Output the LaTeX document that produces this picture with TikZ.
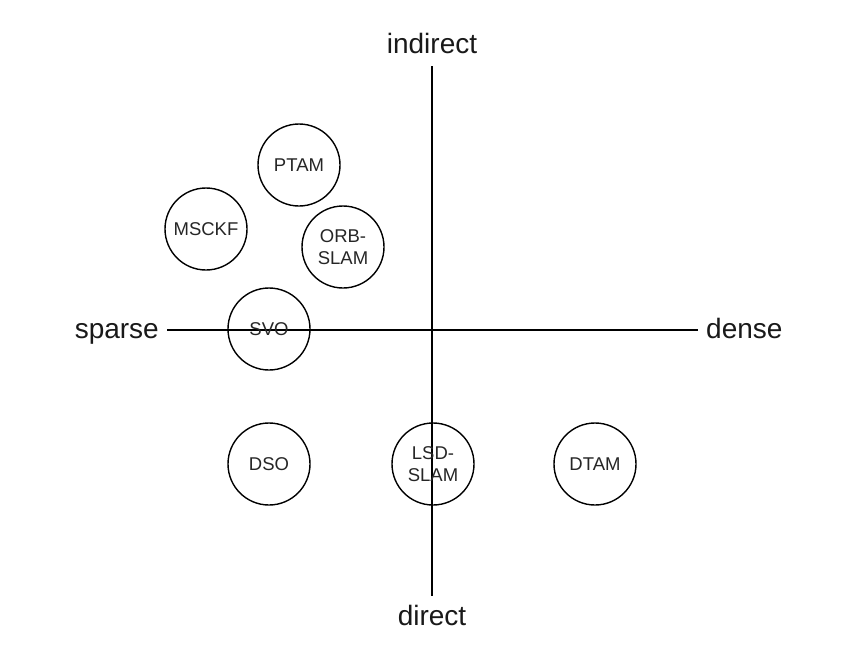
\documentclass[tikz,border=0pt]{standalone}
\usepackage{fontspec}
\setmainfont{Liberation Sans}
\begin{document}
\begin{tikzpicture}[x=1pt,y=-1pt,
  method/.style={circle,draw=black,line width=1.4pt,minimum size=82pt,inner sep=0pt,
    align=center,font=\fontsize{18.5}{22}\selectfont,text=black!85},
  axislabel/.style={inner sep=0pt,font=\fontsize{28}{32}\selectfont,text=black!90},
  axis/.style={line width=1.4pt,draw=black}]
\useasboundingbox (0,0) rectangle (862,656);
% axes
\coordinate (top) at (432,66);
\coordinate (bot) at (432,596);
\coordinate (lft) at (167,330);
\coordinate (rgt) at (698,330);
\draw[axis] (top) -- (bot);
\draw[axis] (lft) -- (rgt);
\node[axislabel,anchor=base] (indirect) at (432,53) {indirect};
\node[axislabel,anchor=base] (direct) at (432,625) {direct};
\node[axislabel,anchor=base east] (sparse) at (159,338) {sparse};
\node[axislabel,anchor=base west] (dense) at (706,338) {dense};
% methods
\node[method] (ptam) at (299,165) {PTAM};
\node[method] (msckf) at (206,229) {MSCKF};
\node[method] (orb) at (343,247) {ORB-\\SLAM};
\node[method] (svo) at (269,329) {SVO};
\node[method] (dso) at (269,464) {DSO};
\node[method] (lsd) at (433,464) {LSD-\\SLAM};
\node[method] (dtam) at (595,464) {DTAM};
\end{tikzpicture}
\end{document}
